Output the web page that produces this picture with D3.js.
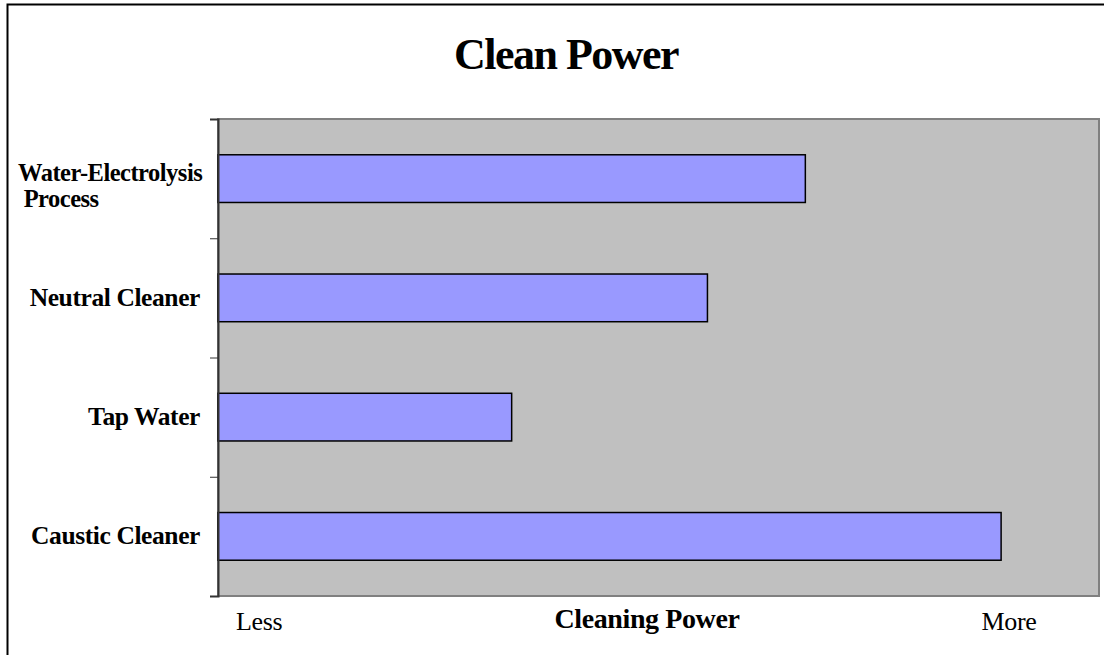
<!DOCTYPE html>
<html>
<head>
<meta charset="utf-8">
<script src="https://cdn.jsdelivr.net/npm/d3@7"></script>
<style>
  body { margin: 0; background: #fff; }
  svg { display: block; font-family: "Liberation Serif", "Times New Roman", serif; }
</style>
</head>
<body>
<div id="root"></div>
<script>
// data
const categories = ["Water-Electrolysis Process", "Neutral Cleaner", "Tap Water", "Caustic Cleaner"];
const labelLines = [["Water-Electrolysis", " Process"], ["Neutral Cleaner"], ["Tap Water"], ["Caustic Cleaner"]];
const values = [6, 5, 3, 8];
const xMax = 9;
const xEndLabels = [{ v: 0.42, t: "Less" }, { v: 8.08, t: "More" }];

const width = 1104, height = 655;
const plot = { left: 218, top: 119, right: 1099, bottom: 596 };

const svg = d3.select("#root").append("svg")
  .attr("width", width)
  .attr("height", height);

// outer chart border (only left + top visible)
svg.append("path")
  .attr("d", `M7.5,${height} V4.5 H${width}`)
  .attr("fill", "none")
  .attr("stroke", "#000")
  .attr("stroke-width", 2);

// title
svg.append("text")
  .attr("x", 566)
  .attr("y", 69)
  .attr("text-anchor", "middle")
  .attr("font-size", 44)
  .attr("font-weight", "bold")
  .attr("letter-spacing", -1.5)
  .text("Clean Power");

const x = d3.scaleLinear().domain([0, xMax]).range([plot.left, plot.right]);
const y = d3.scaleBand().domain(categories).range([plot.top, plot.bottom]).paddingInner(0.6).paddingOuter(0.3);
const yEdge = d3.scaleLinear().domain([0, categories.length]).range([plot.top, plot.bottom]);

// plot area
svg.append("rect")
  .attr("x", plot.left)
  .attr("y", plot.top)
  .attr("width", plot.right - plot.left)
  .attr("height", plot.bottom - plot.top)
  .attr("fill", "#c0c0c0")
  .attr("stroke", "#808080")
  .attr("stroke-width", 2);

// bars
svg.selectAll("rect.bar")
  .data(values)
  .enter()
  .append("rect")
  .attr("class", "bar")
  .attr("x", x(0))
  .attr("y", (d, i) => y(categories[i]))
  .attr("width", (d) => x(d) - x(0))
  .attr("height", y.bandwidth())
  .attr("fill", "#9999ff")
  .attr("stroke", "#000")
  .attr("stroke-width", 1.5);

// left axis with ticks at category boundaries
const yAxis = d3.axisLeft(yEdge)
  .tickValues(d3.range(categories.length + 1))
  .tickSize(8)
  .tickFormat("");
const gy = svg.append("g")
  .attr("transform", `translate(${plot.left},0)`)
  .call(yAxis);
gy.select(".domain").attr("stroke", "#333").attr("stroke-width", 2);
gy.selectAll(".tick line").attr("stroke", "#333");

// category labels
const labels = svg.selectAll("text.cat")
  .data(labelLines)
  .enter()
  .append("text")
  .attr("class", "cat")
  .attr("font-size", (d) => (d.length > 1 ? 24.5 : 25.5))
  .attr("font-weight", "bold")
  .attr("letter-spacing", (d) => (d.length > 1 ? -0.5 : -0.4))
  .attr("text-anchor", (d) => (d.length > 1 ? "start" : "end"))
  .attr("y", (d, i) => y(categories[i]) + y.bandwidth() / 2 + (d.length > 1 ? 2 : 8));

labels.selectAll("tspan")
  .data((d) => d)
  .enter()
  .append("tspan")
  .attr("x", function () { return this.parentNode.__data__.length > 1 ? 18 : 200; })
  .attr("dy", (d, i) => (i === 0 ? 0 : 26))
  .attr("xml:space", "preserve")
  .style("white-space", "pre")
  .text((d) => d);

// x labels
svg.selectAll("text.xend")
  .data(xEndLabels)
  .enter()
  .append("text")
  .attr("class", "xend")
  .attr("x", (d) => x(d.v))
  .attr("y", 630)
  .attr("text-anchor", "middle")
  .attr("font-size", 26)
  .attr("letter-spacing", -0.4)
  .text((d) => d.t);

svg.append("text")
  .attr("x", 647)
  .attr("y", 628)
  .attr("text-anchor", "middle")
  .attr("font-size", 28)
  .attr("font-weight", "bold")
  .attr("letter-spacing", -0.4)
  .text("Cleaning Power");
</script>
</body>
</html>
